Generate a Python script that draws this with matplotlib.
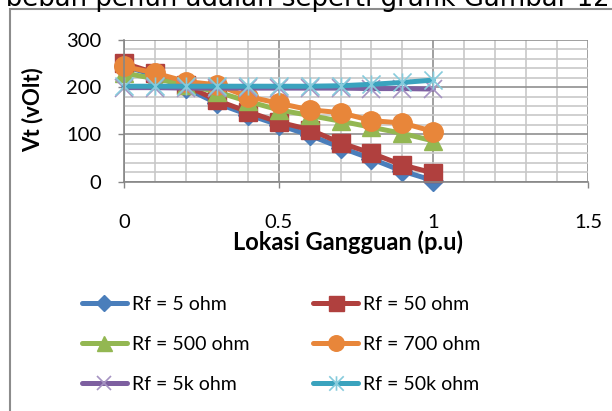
"""
Vt vs lokasi gangguan, recreated from an Excel chart
"""

import matplotlib.pyplot as plt
from matplotlib.path import Path
from matplotlib.patches import Rectangle
from matplotlib.ticker import MultipleLocator

LOKASI = [0.0, 0.1, 0.2, 0.3, 0.4, 0.5, 0.6, 0.7, 0.8, 0.9, 1.0]

VT_5 = [245, 225, 198, 166, 142, 120, 98, 72, 48, 22, 2]
VT_50 = [251, 230, 204, 172, 148, 126, 110, 82, 60, 35, 18]
VT_500 = [230, 218, 205, 190, 170, 152, 140, 128, 115, 102, 86]
VT_700 = [244, 230, 212, 205, 180, 166, 152, 146, 129, 124, 106]
VT_5K = [199, 199, 198, 198, 198, 198, 198, 198, 197, 197, 196]
VT_50K = [202, 202, 202, 202, 202, 202, 202, 203, 206, 210, 215]

LABELS = ["Rf = 5 ohm", "Rf = 50 ohm", "Rf = 500 ohm",
          "Rf = 700 ohm", "Rf = 5k ohm", "Rf = 50k ohm"]

X_TICKS = [0, 0.5, 1, 1.5]
X_TICK_LABELS = ["0", "0.5", "1", "1.5"]
Y_TICKS = [0, 100, 200, 300]

# excel style asterisk: a vertical bar plus an x
STAR = Path([(0, -1), (0, 1), (-1, -1), (1, 1), (-1, 1), (1, -1)],
            [Path.MOVETO, Path.LINETO, Path.MOVETO, Path.LINETO,
             Path.MOVETO, Path.LINETO])

plt.rcParams["font.family"] = ["Lato", "DejaVu Sans"]

fig = plt.figure(figsize=(6.12, 4.11), dpi=100)
ax = fig.add_axes([124 / 612, 1 - 181.5 / 411, 464 / 612, 141.5 / 411])

styles = [
    (VT_5, "#4a7ebb", "D", 10, "#4a7ebb", 1),
    (VT_50, "#b0403e", "s", 13.5, "#b0403e", 1),
    (VT_500, "#93b752", "^", 13.5, "#93b752", 1),
    (VT_700, "#e8863a", "o", 14, "#e8863a", 1),
    (VT_5K, "#7d5fa0", "x", 13, "#a593c2", 1.2),
    (VT_50K, "#3aa3be", STAR, 13, "#86cbdc", 1.2),
]
handles = []
for (values, color, marker, msize, mcolor, mew), label in zip(styles, LABELS):
    line, = ax.plot(LOKASI, values, color=color, lw=3.6, marker=marker,
                    markersize=msize, markerfacecolor=mcolor,
                    markeredgecolor=mcolor, markeredgewidth=mew, label=label,
                    solid_capstyle="round", clip_on=False)
    handles.append(line)

ax.set_xlim(0, 1.5)
ax.set_ylim(0, 300)
ax.set_xticks(X_TICKS)
ax.set_xticklabels(X_TICK_LABELS)
ax.set_yticks(Y_TICKS)
ax.xaxis.set_minor_locator(MultipleLocator(0.1))
ax.yaxis.set_minor_locator(MultipleLocator(20))

ax.grid(which="minor", color="#c8c8c8", lw=1.2, zorder=0)
ax.grid(which="major", color="#909090", lw=1.2, zorder=0)
ax.set_axisbelow(True)

for side in ["top", "right"]:
    ax.spines[side].set_visible(False)
for side in ["left", "bottom"]:
    ax.spines[side].set_color("#868686")
    ax.spines[side].set_linewidth(1.2)

ax.tick_params(which="major", length=4.5, width=1, color="#868686",
               labelsize=14.5, labelcolor="black")
ax.tick_params(which="minor", length=0)
ax.tick_params(axis="x", pad=19)
ax.tick_params(axis="y", pad=12)

ax.set_xlabel("Lokasi Gangguan (p.u)", fontsize=17, fontweight="bold")
ax.xaxis.set_label_coords(0.482, -0.428)
ax.xaxis.label.set_verticalalignment("center")
ax.set_ylabel("Vt (vOlt)", fontsize=16, fontweight="bold")
ax.yaxis.set_label_coords(-0.196, 0.505)
ax.yaxis.label.set_verticalalignment("center")

# legend is filled column by column, reorder so it reads row by row
order = [0, 2, 4, 1, 3, 5]
ax.legend([handles[i] for i in order], [LABELS[i] for i in order],
          ncol=2, loc="upper left", frameon=False, fontsize=14,
          bbox_to_anchor=(82 / 612, 1 - 296 / 411),
          bbox_transform=fig.transFigure, borderpad=0, borderaxespad=0,
          handlelength=2.3, handletextpad=0.25, columnspacing=3.3,
          labelspacing=1.18, markerscale=0.8)

# gray chart-area border, right and bottom edges run off the picture
fig.patches.append(Rectangle((10 / 612, -0.1), 1.2, 1.1 - 9.5 / 411,
                             transform=fig.transFigure, fill=False,
                             edgecolor="#8c8c8c", lw=1.5))

fig.text(-4.7 / 612, 1 - 6.5 / 411, "rbeban penuh adalah seperti grafik Gambar 12",
         fontsize=18.7, family="DejaVu Sans", va="baseline")

fig.savefig("out.png", dpi=100)
